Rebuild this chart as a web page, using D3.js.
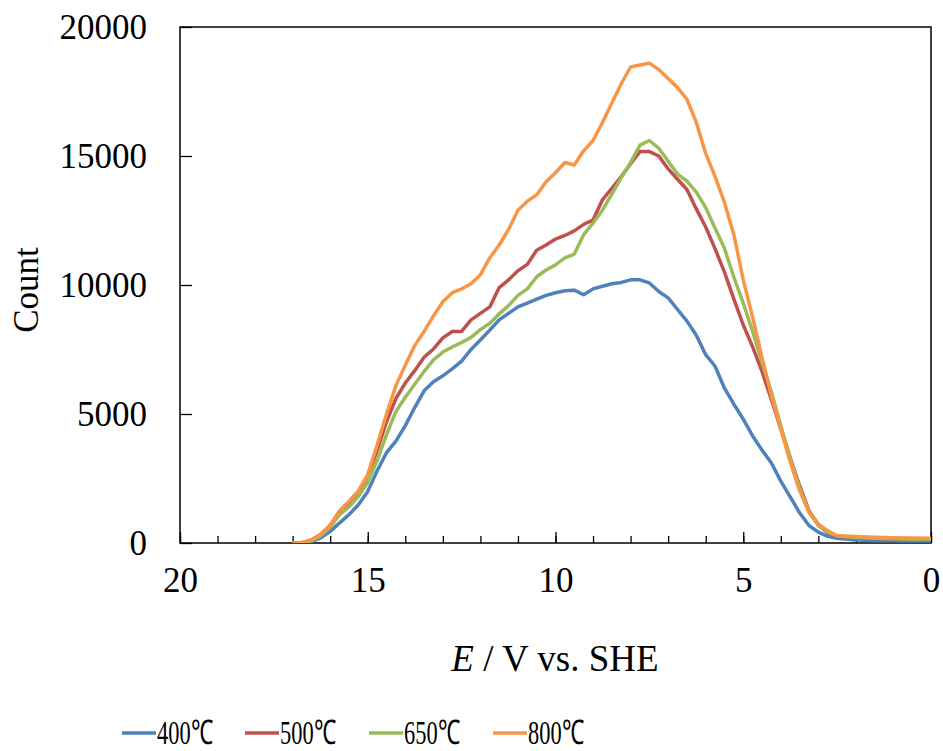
<!DOCTYPE html>
<html>
<head>
<meta charset="utf-8">
<script src="https://cdn.jsdelivr.net/npm/d3@7"></script>
<style>
  body { margin: 0; background: white; }
  text { font-family: "Liberation Serif", "Times New Roman", serif; fill: #000; }
</style>
</head>
<body>
<svg id="chart" width="943" height="751"></svg>
<script>
// E / V vs. SHE, shared by every series
var energy = [17, 16.75, 16.5, 16.25, 16, 15.75, 15.5, 15.25, 15, 14.75, 14.5, 14.25, 14, 13.75, 13.5, 13.25,
  13, 12.75, 12.5, 12.25, 12, 11.75, 11.5, 11.25, 11, 10.75, 10.5, 10.25, 10, 9.75, 9.5, 9.25,
  9, 8.75, 8.5, 8.25, 8, 7.75, 7.5, 7.25, 7, 6.75, 6.5, 6.25, 6, 5.75, 5.5, 5.25,
  5, 4.75, 4.5, 4.25, 4, 3.75, 3.5, 3.25, 3, 2.75, 2.5, 2, 1.5, 1, 0.5, 0];

var count400 = [0, 0, 60, 200, 450, 780, 1100, 1480, 2000, 2800, 3500, 3950, 4550, 5250, 5900, 6250,
  6480, 6750, 7050, 7500, 7870, 8250, 8650, 8900, 9150, 9300, 9450, 9600, 9700, 9780, 9800, 9620,
  9850, 9950, 10050, 10100, 10200, 10200, 10080, 9750, 9500, 9050, 8600, 8050, 7300, 6850, 6000, 5380,
  4800, 4150, 3600, 3100, 2400, 1790, 1170, 680, 420, 260, 180, 120, 100, 90, 80, 80];

var count500 = [0, 10, 120, 330, 680, 1200, 1550, 1950, 2550, 3600, 4700, 5600, 6200, 6680, 7200, 7520,
  7950, 8200, 8200, 8650, 8900, 9150, 9900, 10200, 10550, 10800, 11350, 11550, 11780, 11920, 12100, 12350,
  12520, 13300, 13750, 14200, 14700, 15170, 15170, 15000, 14500, 14100, 13700, 12950, 12250, 11400, 10500, 9450,
  8450, 7600, 6650, 5550, 4420, 3300, 2230, 1250, 700, 400, 260, 210, 180, 160, 150, 150];

var count650 = [0, 0, 80, 280, 620, 1100, 1400, 1800, 2350, 3200, 4200, 5100, 5650, 6150, 6650, 7100,
  7400, 7600, 7770, 7970, 8270, 8520, 8880, 9200, 9600, 9850, 10320, 10580, 10780, 11050, 11200, 11950,
  12400, 12900, 13520, 14150, 14750, 15420, 15600, 15300, 14800, 14300, 14030, 13600, 13000, 12200, 11420, 10300,
  9300, 8200, 7000, 5850, 4550, 3300, 2150, 1200, 680, 420, 270, 210, 180, 160, 150, 150];

var count800 = [0, 20, 120, 350, 700, 1250, 1620, 2020, 2650, 3800, 5000, 6100, 6900, 7650, 8200, 8800,
  9350, 9700, 9850, 10050, 10400, 11050, 11550, 12150, 12900, 13250, 13500, 14000, 14350, 14750, 14650, 15200,
  15600, 16300, 17050, 17800, 18450, 18530, 18600, 18350, 18000, 17650, 17200, 16300, 15100, 14200, 13200, 11950,
  10200, 8750, 7180, 5700, 4420, 3150, 2030, 1200, 730, 470, 280, 250, 220, 200, 190, 180];

var seriesNames = ["400℃", "500℃", "650℃", "800℃"];
var seriesColors = ["#4F81BD", "#C0504D", "#9BBB59", "#F79646"];
var seriesCounts = [count400, count500, count650, count800];

var xTicks = [20, 15, 10, 5, 0];
var xMinorTicks = d3.range(0, 21, 1);
var yTicks = [0, 5000, 10000, 15000, 20000];

var svg = d3.select("#chart");
var plotLeft = 180, plotRight = 931, plotTop = 27, plotBottom = 543;

var x = d3.scaleLinear().domain([20, 0]).range([plotLeft, plotRight]);
var y = d3.scaleLinear().domain([0, 20000]).range([plotBottom, plotTop]);

// plot frame
svg.append("rect")
  .attr("x", plotLeft).attr("y", plotTop)
  .attr("width", plotRight - plotLeft).attr("height", plotBottom - plotTop)
  .attr("fill", "none").attr("stroke", "#000").attr("stroke-width", 1.5);

// clip so the lines stay inside the frame
svg.append("clipPath").attr("id", "plotclip")
  .append("rect").attr("x", plotLeft).attr("y", plotTop - 5)
  .attr("width", plotRight - plotLeft).attr("height", plotBottom - plotTop + 5);

// x axis: minor ticks every 1, major every 5, pointing inward
var xMinor = d3.axisBottom(x).tickValues(xMinorTicks).tickSize(-7).tickFormat("");
var xMajor = d3.axisBottom(x).tickValues(xTicks).tickSize(-11).tickPadding(24).tickFormat(d3.format("d"));
svg.append("g").attr("transform", "translate(0," + plotBottom + ")").call(xMinor)
  .call(function(g) { g.select(".domain").remove(); });
var gx = svg.append("g").attr("transform", "translate(0," + plotBottom + ")").call(xMajor);
gx.select(".domain").remove();
gx.selectAll("text").attr("font-size", 35).attr("font-family", "Liberation Serif").attr("fill", "#000");

// y axis
var yAxis = d3.axisLeft(y).tickValues(yTicks).tickSize(-12).tickPadding(33).tickFormat(d3.format("d"));
var gy = svg.append("g").attr("transform", "translate(" + plotLeft + ",0)").call(yAxis);
gy.select(".domain").remove();
gy.selectAll("text").attr("font-size", 35).attr("font-family", "Liberation Serif").attr("fill", "#000");
svg.selectAll(".tick line").attr("stroke", "#000").attr("stroke-width", 1.3);

// axis titles
svg.append("text")
  .attr("transform", "translate(38,290) rotate(-90)")
  .attr("text-anchor", "middle")
  .attr("font-size", 35)
  .text("Count");

var xt = svg.append("text")
  .attr("x", 555).attr("y", 671)
  .attr("text-anchor", "middle")
  .attr("font-size", 37);
xt.append("tspan").attr("font-style", "italic").text("E");
xt.append("tspan").text(" / V vs. SHE");

// data lines
var line = d3.line()
  .x(function(d) { return x(d[0]); })
  .y(function(d) { return y(d[1]); });

seriesCounts.forEach(function(counts, i) {
  var pts = energy.map(function(e, j) { return [e, counts[j]]; });
  svg.append("path")
    .datum(pts)
    .attr("clip-path", "url(#plotclip)")
    .attr("fill", "none")
    .attr("stroke", seriesColors[i])
    .attr("stroke-width", 3.5)
    .attr("stroke-linejoin", "round")
    .attr("d", line);
});

// legend
var legendX = [122, 245, 369, 493];
seriesNames.forEach(function(name, i) {
  var g = svg.append("g").attr("transform", "translate(" + legendX[i] + ",733)");
  g.append("line").attr("x1", 0).attr("x2", 34).attr("y1", 0).attr("y2", 0)
    .attr("stroke", seriesColors[i]).attr("stroke-width", 3.5);
  g.append("text").attr("x", 35).attr("y", 11)
    .attr("font-size", 34)
    .attr("textLength", 56)
    .attr("lengthAdjust", "spacingAndGlyphs")
    .text(name);
});
</script>
</body>
</html>
